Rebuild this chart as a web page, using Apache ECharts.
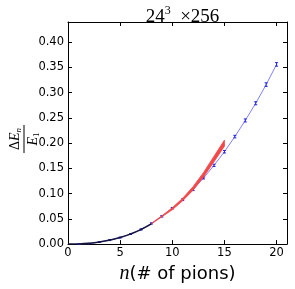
<!DOCTYPE html>
<html><head><meta charset="utf-8">
<script src="https://cdn.jsdelivr.net/npm/echarts@6/dist/echarts.min.js"></script>
<style>html,body{margin:0;padding:0;background:#fff}#c{width:295px;height:289px}</style>
</head><body><div id="c"></div>
<script>
// data
const nPoints = [1,2,3,4,5,6,7,8,9,10,11,12,13,14,15,16,17,18,19,20];
const ratioValues = [0,0.001,0.004,0.008,0.013,0.020,0.029,0.041,0.055,0.071,0.088,0.108,0.131,0.156,0.183,0.213,0.245,0.279,0.316,0.356];
const ratioErrors = [0.0005,0.0005,0.0008,0.001,0.001,0.001,0.0012,0.0012,0.0015,0.0015,0.0018,0.002,0.002,0.0022,0.0025,0.0025,0.003,0.003,0.0035,0.0035];
const fitN = [0,1,2,3,4,5,6,7,8];
const fitValues = [0,0.0003,0.0015,0.004,0.008,0.013,0.020,0.029,0.040];
const bandN = [8,9,10,11,12,13,14,15];
const bandLower = [0.040,0.054,0.068,0.086,0.107,0.133,0.163,0.194];
const bandUpper = [0.041,0.056,0.072,0.091,0.114,0.142,0.174,0.206];
const xTicks = [0,5,10,15,20];
const yTicks = [0,0.05,0.10,0.15,0.20,0.25,0.30,0.35,0.40];

const chart = echarts.init(document.getElementById('c'), null, {renderer:'canvas'});
const sans = 'DejaVu Sans';
const serif = 'Liberation Serif';
const axisCommon = {
  axisLine:{show:true,onZero:false,lineStyle:{color:'#000',width:1}},
  axisTick:{show:true,inside:true,length:4,lineStyle:{color:'#000',width:1}},
  splitLine:{show:false}
};
chart.setOption({
  animation:false,
  backgroundColor:'#fff',
  title:{
    text:'{a|24}{s|3}{a|  ×256}', left:177.5, textAlign:'center', top:0,
    textStyle:{fontWeight:'normal',rich:{
      a:{fontFamily:serif,fontSize:19,fontWeight:'normal',color:'#000',verticalAlign:'bottom',lineHeight:22},
      s:{fontFamily:serif,fontSize:12,fontWeight:'normal',color:'#000',verticalAlign:'top',lineHeight:22,padding:[0,0,9,0]}
    }}
  },
  grid:{left:68,right:8,top:22,bottom:33,containLabel:false},
  xAxis:[
    Object.assign({type:'value',min:0,max:21,interval:5,position:'bottom',
      axisLabel:{show:true,color:'#000',fontFamily:sans,fontSize:11.5,margin:3,showMaxLabel:false,
        formatter:v=>xTicks.includes(v)?String(v):''},
      name:'{i|n}{r|(# of pions)}', nameLocation:'middle', nameGap:17,
      nameTextStyle:{rich:{i:{fontFamily:serif,fontStyle:'italic',fontSize:20,color:'#000'},
                           r:{fontFamily:sans,fontSize:18,color:'#000'}}}
    },axisCommon),
    Object.assign({type:'value',min:0,max:21,interval:5,position:'top',axisLabel:{show:false}},axisCommon)
  ],
  yAxis:[
    Object.assign({type:'value',min:0,max:0.44,interval:0.05,position:'left',
      axisLabel:{show:true,color:'#000',fontFamily:sans,fontSize:11.5,margin:4,showMaxLabel:false,
        formatter:v=>yTicks.some(t=>Math.abs(t-v)<1e-9)?v.toFixed(2):''}
    },axisCommon),
    Object.assign({type:'value',min:0,max:0.44,interval:0.05,position:'right',axisLabel:{show:false}},axisCommon)
  ],
  graphic:[{
    type:'group', x:24, y:139, rotation:Math.PI/2,
    children:[
      {type:'line',shape:{x1:-14,y1:0,x2:14,y2:0},style:{stroke:'#000',lineWidth:1}},
      {type:'text',x:0,y:-1,style:{text:'{d|Δ}{e|E}{s|n}',align:'center',verticalAlign:'bottom',
        rich:{d:{fontFamily:serif,fontSize:14,fill:'#000'},e:{fontFamily:serif,fontStyle:'italic',fontSize:14,fill:'#000'},
              s:{fontFamily:serif,fontStyle:'italic',fontSize:9,fill:'#000',padding:[6,0,0,0]}}}},
      {type:'text',x:0,y:2,style:{text:'{e|E}{s|1}',align:'center',verticalAlign:'top',
        rich:{e:{fontFamily:serif,fontStyle:'italic',fontSize:14,fill:'#000'},
              s:{fontFamily:serif,fontSize:9,fill:'#000',padding:[6,0,0,0]}}}}
    ]
  }],
  series:[
    {type:'line',data:nPoints.map((n,i)=>[n,ratioValues[i]]),showSymbol:false,
      lineStyle:{color:'#8080ff',width:1},z:2},
    {type:'custom',data:nPoints.map((n,i)=>[n,ratioValues[i]-ratioErrors[i],ratioValues[i]+ratioErrors[i]]),
      renderItem:(params,api)=>{
        const lo=api.coord([api.value(0),api.value(1)]);
        const hi=api.coord([api.value(0),api.value(2)]);
        const st={stroke:'#2222dd',lineWidth:1};
        return {type:'group',children:[
          {type:'line',shape:{x1:lo[0],y1:lo[1],x2:hi[0],y2:hi[1]},style:st},
          {type:'line',shape:{x1:lo[0]-1.5,y1:lo[1],x2:lo[0]+1.5,y2:lo[1]},style:st},
          {type:'line',shape:{x1:hi[0]-1.5,y1:hi[1],x2:hi[0]+1.5,y2:hi[1]},style:st}
        ]};
      },z:3},
    {type:'custom',data:bandN.map((n,i)=>[n,bandLower[i],bandUpper[i]]),
      renderItem:(params,api)=>{
        if(params.dataIndex!==0) return null;
        const up=bandN.map((n,i)=>api.coord([n,bandUpper[i]]));
        const lo=bandN.map((n,i)=>api.coord([n,bandLower[i]])).reverse();
        return {type:'polygon',shape:{points:up.concat(lo)},style:{fill:'#f44848',stroke:'#f44848',lineWidth:0.8,lineJoin:'round'}};
      },z:4},
    {type:'line',data:fitN.map((n,i)=>[n,fitValues[i]]),showSymbol:false,smooth:true,
      lineStyle:{color:'#14143c',width:1.5},z:5}
  ]
});
</script></body></html>
